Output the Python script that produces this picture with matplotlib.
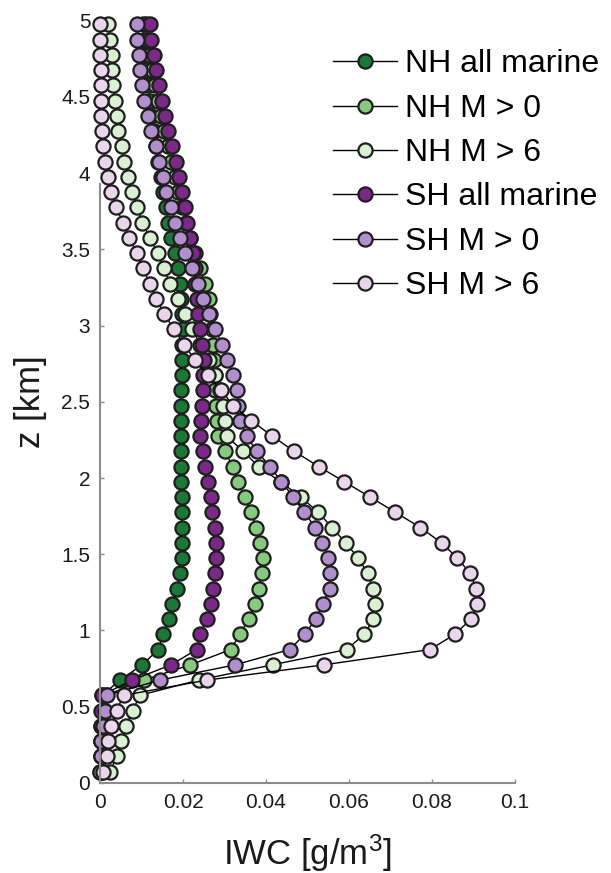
import matplotlib as mpl
mpl.use('Agg')
import matplotlib.pyplot as plt

mpl.rcParams['font.family'] = 'Liberation Sans'
mpl.rcParams['mathtext.default'] = 'regular'

# height levels (km)
z = [0.075, 0.175, 0.275, 0.375, 0.475, 0.575, 0.675, 0.775, 0.875, 0.975,
     1.075, 1.175, 1.275, 1.375, 1.475, 1.575, 1.675, 1.775, 1.875, 1.975,
     2.075, 2.175, 2.275, 2.375, 2.475, 2.575, 2.675, 2.775, 2.875, 2.975,
     3.075, 3.175, 3.275, 3.375, 3.475, 3.575, 3.675, 3.775, 3.875, 3.975,
     4.075, 4.175, 4.275, 4.375, 4.475, 4.575, 4.675, 4.775, 4.875, 4.975]

# ice water content profiles (g/m^3), bottom to top
nh_all = [0.0002, 0.0002, 0.0003, 0.0003, 0.0004, 0.0005, 0.0048, 0.0102, 0.0140, 0.0152,
          0.0166, 0.0173, 0.0185, 0.0193, 0.0197, 0.0197, 0.0198, 0.0197, 0.0197, 0.0196,
          0.0195, 0.0195, 0.0194, 0.0194, 0.0194, 0.0195, 0.0197, 0.0197, 0.0198, 0.0199,
          0.0198, 0.0196, 0.0192, 0.0187, 0.0180, 0.0172, 0.0165, 0.0158, 0.0152, 0.0146,
          0.0140, 0.0135, 0.0129, 0.0124, 0.0120, 0.0116, 0.0112, 0.0109, 0.0106, 0.0104]
nh_m0 = [0.0004, 0.0006, 0.0008, 0.0010, 0.0012, 0.0015, 0.0105, 0.0218, 0.0315, 0.0337,
         0.0358, 0.0373, 0.0382, 0.0390, 0.0392, 0.0386, 0.0377, 0.0363, 0.0349, 0.0333,
         0.0320, 0.0301, 0.0285, 0.0283, 0.0280, 0.0278, 0.0276, 0.0274, 0.0272, 0.0270,
         0.0266, 0.0262, 0.0252, 0.0242, 0.0230, 0.0218, 0.0207, 0.0198, 0.0189, 0.0180,
         0.0172, 0.0163, 0.0155, 0.0147, 0.0140, 0.0133, 0.0126, 0.0120, 0.0115, 0.0112]
nh_m6 = [0.0025, 0.0040, 0.0050, 0.0063, 0.0079, 0.0096, 0.0238, 0.0416, 0.0594, 0.0637,
         0.0659, 0.0663, 0.0657, 0.0645, 0.0622, 0.0592, 0.0559, 0.0526, 0.0484, 0.0435,
         0.0382, 0.0345, 0.0305, 0.0301, 0.0296, 0.0290, 0.0278, 0.0262, 0.0242, 0.0222,
         0.0205, 0.0189, 0.0169, 0.0153, 0.0139, 0.0120, 0.0102, 0.0090, 0.0078, 0.0068,
         0.0058, 0.0052, 0.0044, 0.0040, 0.0036, 0.0031, 0.0030, 0.0028, 0.0023, 0.0020]
sh_all = [0.0001, 0.0002, 0.0002, 0.0003, 0.0003, 0.0004, 0.0078, 0.0171, 0.0233, 0.0241,
          0.0257, 0.0267, 0.0273, 0.0277, 0.0280, 0.0280, 0.0277, 0.0271, 0.0267, 0.0260,
          0.0253, 0.0247, 0.0242, 0.0243, 0.0245, 0.0249, 0.0249, 0.0250, 0.0246, 0.0241,
          0.0237, 0.0233, 0.0230, 0.0228, 0.0223, 0.0217, 0.0210, 0.0204, 0.0197, 0.0190,
          0.0182, 0.0173, 0.0165, 0.0157, 0.0150, 0.0143, 0.0136, 0.0129, 0.0124, 0.0120]
sh_m0 = [0.0001, 0.0002, 0.0003, 0.0006, 0.0012, 0.0016, 0.0145, 0.0326, 0.0457, 0.0493,
         0.0520, 0.0537, 0.0553, 0.0554, 0.0550, 0.0536, 0.0519, 0.0492, 0.0466, 0.0437,
         0.0410, 0.0378, 0.0353, 0.0337, 0.0333, 0.0330, 0.0321, 0.0307, 0.0295, 0.0277,
         0.0262, 0.0247, 0.0235, 0.0221, 0.0205, 0.0193, 0.0181, 0.0171, 0.0160, 0.0151,
         0.0143, 0.0134, 0.0124, 0.0115, 0.0106, 0.0101, 0.0097, 0.0093, 0.0090, 0.0089]
sh_m6 = [0.0008, 0.0018, 0.0019, 0.0027, 0.0040, 0.0057, 0.0258, 0.0540, 0.0795, 0.0855,
         0.0894, 0.0909, 0.0906, 0.0892, 0.0861, 0.0823, 0.0772, 0.0712, 0.0651, 0.0589,
         0.0527, 0.0468, 0.0415, 0.0365, 0.0321, 0.0292, 0.0259, 0.0228, 0.0203, 0.0178,
         0.0155, 0.0135, 0.0120, 0.0104, 0.0088, 0.0071, 0.0055, 0.0039, 0.0026, 0.0020,
         0.0012, 0.0008, 0.0004, 0.0003, 0.0003, 0.0002, 0.0002, 0.0001, 0.0001, 0.0001]

labels = ['NH all marine', 'NH M > 0', 'NH M > 6',
          'SH all marine', 'SH M > 0', 'SH M > 6']
colors = ['#1b7837', '#86c97f', '#d9f0d3', '#7a2a86', '#b08fcc', '#e9d6ea']
profiles = [nh_all, nh_m0, nh_m6, sh_all, sh_m0, sh_m6]

fig = plt.figure(figsize=(6.11, 8.73), dpi=100)
ax = fig.add_axes([0.1637, 0.1031, 0.6792, 0.8734])

for iwc, c, lab in zip(profiles, colors, labels):
    ax.plot(iwc, z, '-o', color='k', lw=1.0, mfc=c, mec='#1e1e1e',
            ms=10.2, mew=1.6, label=lab, clip_on=False)

ax.set_xlim(0, 0.1)
ax.set_ylim(0, 5)
ax.set_xticks([0, 0.02, 0.04, 0.06, 0.08, 0.1])
ax.set_xticklabels(['0', '0.02', '0.04', '0.06', '0.08', '0.1'])
ax.set_yticks([0, 0.5, 1, 1.5, 2, 2.5, 3, 3.5, 4, 4.5, 5])
ax.set_yticklabels(['0', '0.5', '1', '1.5', '2', '2.5', '3', '3.5', '4', '4.5', '5'])

for s in ['top', 'right']:
    ax.spines[s].set_visible(False)
for s in ['left', 'bottom']:
    ax.spines[s].set_color('#8c8c8c')
    ax.spines[s].set_linewidth(1.5)
ax.spines['left'].set_bounds(0, 3.93)
ax.tick_params(direction='in', length=3, width=1, color='#8c8c8c',
               labelsize=15, labelcolor='#1a1a1a', pad=7)

ax.set_xlabel('IWC [g/m$^{3}$]', fontsize=25, color='#1a1a1a', labelpad=15)
ax.set_ylabel('z [km]', fontsize=25, color='#1a1a1a', labelpad=10)

ax.legend(loc='upper left', bbox_to_anchor=(0.545, 0.9435),
          bbox_transform=fig.transFigure, frameon=False, fontsize=23,
          handlelength=2.0, handletextpad=0.25, labelspacing=0.45,
          borderpad=0, borderaxespad=0, markerscale=1.0)

fig.savefig('out.png', dpi=100)
